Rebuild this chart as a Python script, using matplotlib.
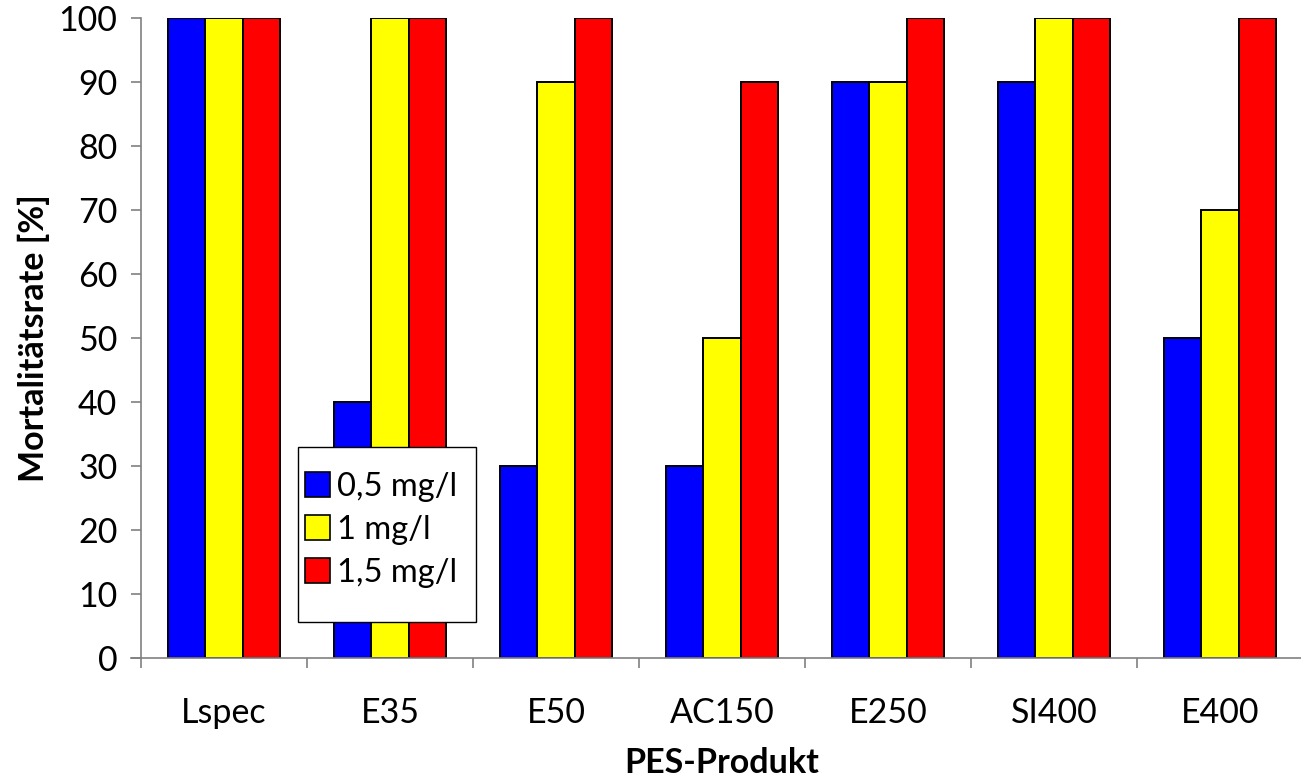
import matplotlib
matplotlib.use('Agg')
import numpy as np
import matplotlib.pyplot as plt
from matplotlib.patches import Patch, Rectangle

plt.rcParams['font.family'] = ['Lato', 'DejaVu Sans']

# data
products = ['Lspec', 'E35', 'E50', 'AC150', 'E250', 'SI400', 'E400']
conc_labels = ['0,5 mg/l', '1 mg/l', '1,5 mg/l']
mort_05 = [100, 40, 30, 30, 90, 90, 50]
mort_10 = [100, 100, 90, 50, 90, 100, 70]
mort_15 = [100, 100, 100, 90, 100, 100, 100]
colors = ['#0000ff', '#ffff00', '#ff0000']

W, H = 1301, 779
fig = plt.figure(figsize=(W / 100, H / 100), dpi=100)
ax = fig.add_axes([141 / W, 1 - 658 / H, (1303 - 141) / W, (658 - 18) / H])

x = np.arange(len(products))
bw = 0.223
for i, (vals, col) in enumerate(zip([mort_05, mort_10, mort_15], colors)):
    ax.bar(x + (i - 1) * bw, vals, width=bw, color=col, edgecolor='black',
           linewidth=1.4, zorder=2)

ax.set_xlim(-0.5, len(products) - 0.5)
ax.set_ylim(0, 100)
ax.set_yticks(range(0, 101, 10))

fs = 24.5
# category labels centred, tick marks between groups
ax.set_xticks(x)
ax.set_xticklabels(products)
ax.set_xticks(np.arange(-0.5, len(products), 1), minor=True)
ax.tick_params(axis='x', which='major', length=0, pad=28, labelsize=fs)
ax.tick_params(axis='x', which='minor', length=7, width=1.2, color='#808080', direction='out')
ax.tick_params(axis='y', length=7, width=1.2, color='#808080', labelsize=fs, pad=10)

for s in ['top', 'right']:
    ax.spines[s].set_visible(False)
for s in ['left', 'bottom']:
    ax.spines[s].set_color('#808080')
    ax.spines[s].set_linewidth(1.2)
# little overhang of the x axis to the left
ax.plot([-10 / (1303 - 141), 0], [0, 0], transform=ax.transAxes, color='#808080',
        lw=1.2, clip_on=False)

ax.set_ylabel('Mortalitätsrate [%]', fontsize=fs, fontweight='bold', labelpad=6)
ax.set_xlabel('PES-Produkt', fontsize=fs, fontweight='bold', labelpad=13)

# legend box drawn separately so its size matches the original
box = Rectangle((297.7 / W, 1 - 621.7 / H), 178 / W, 175 / H, transform=fig.transFigure,
                facecolor='white', edgecolor='black', linewidth=1.0, zorder=4)
fig.add_artist(box)
handles = [Patch(facecolor=c, edgecolor='black', linewidth=1.2) for c in colors]
leg = fig.legend(handles, conc_labels, loc='center left',
                 bbox_to_anchor=(305 / W, 1 - 530 / H), bbox_transform=fig.transFigure,
                 borderaxespad=0, borderpad=0, fontsize=23.5, frameon=False,
                 handlelength=0.78, handleheight=0.78, handletextpad=0.2,
                 labelspacing=0.4)
leg.set_zorder(5)

fig.savefig('out.png', dpi=100)
